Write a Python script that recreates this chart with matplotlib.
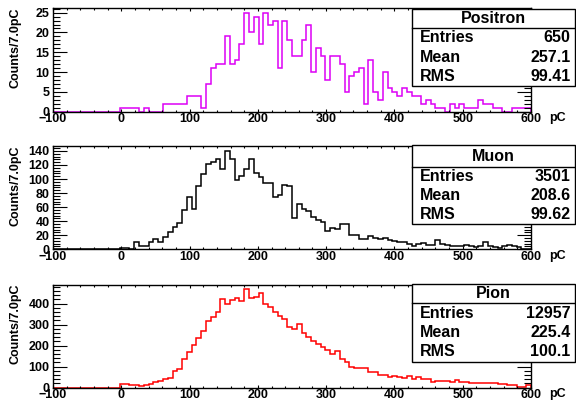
import numpy as np
import matplotlib
matplotlib.use("Agg")
import matplotlib.pyplot as plt
from matplotlib.patches import Rectangle
from matplotlib.lines import Line2D
from matplotlib.ticker import MultipleLocator, FixedLocator

plt.rcParams['font.family'] = ['Liberation Sans', 'DejaVu Sans']
plt.rcParams['font.weight'] = 'bold'

W, H, DPI = 576, 403, 100

# 100 bins of 7 pC from -100 to 600 pC
bin_edges = np.linspace(-100, 600, 101)

positron_counts = [
    0, 0, 0, 0, 0, 0, 0, 0, 0, 0,
    0, 0, 0, 0, 1, 1, 1, 1, 0, 1,
    0, 0, 0, 2, 2, 2, 2, 2, 4, 4,
    4, 1, 7, 11, 12, 12, 19, 12, 13, 17,
    25, 20, 24, 17, 25, 22, 23, 11, 23, 18,
    14, 14, 18, 22, 10, 16, 14, 8, 14, 14,
    12, 5, 9, 10, 11, 2, 13, 5, 3, 10,
    6, 5, 4, 6, 5, 4, 4, 2, 3, 2,
    1, 1, 0, 2, 1, 2, 1, 1, 1, 3,
    2, 2, 1, 1, 0, 0, 1, 1, 1, 1,
]

muon_counts = [
    0, 0, 1, 0, 0, 0, 0, 0, 0, 0,
    1, 1, 0, 1, 2, 2, 0, 10, 4, 4,
    10, 14, 10, 17, 25, 32, 37, 56, 75, 58,
    90, 107, 121, 124, 129, 114, 140, 128, 99, 104,
    114, 128, 109, 103, 95, 95, 75, 77, 92, 90,
    45, 65, 57, 54, 46, 41, 39, 26, 30, 29,
    36, 36, 20, 21, 14, 15, 19, 16, 14, 16,
    13, 12, 10, 10, 7, 5, 8, 9, 6, 6,
    13, 7, 6, 5, 4, 4, 6, 5, 3, 4,
    10, 4, 3, 2, 5, 6, 4, 3, 1, 1,
]

pion_counts = [
    0, 0, 0, 0, 0, 0, 0, 0, 0, 0,
    0, 0, 0, 0, 18, 17, 12, 11, 8, 12,
    18, 28, 30, 42, 44, 80, 90, 137, 172, 205,
    238, 270, 318, 335, 362, 422, 400, 415, 428, 412,
    467, 424, 430, 448, 397, 384, 360, 342, 328, 288,
    278, 305, 258, 242, 224, 208, 194, 180, 158, 174,
    134, 120, 100, 92, 92, 92, 76, 76, 60, 60,
    52, 55, 52, 48, 55, 43, 49, 40, 40, 29,
    32, 32, 34, 25, 36, 25, 25, 21, 21, 21,
    21, 21, 24, 17, 17, 13, 13, 5, 5, 11,
]

names = ["Positron", "Muon", "Pion"]
entries = ["650", "3501", "12957"]
means = ["257.1", "208.6", "225.4"]
rms_values = ["99.41", "99.62", "100.1"]
x_ticks = [-100, 0, 100, 200, 300, 400, 500, 600]
y_major_steps = [5, 20, 100]
y_minor_steps = [1, 4, 20]

series = [positron_counts, muon_counts, pion_counts]
colors = ["#DD00F5", "#000000", "#FF0000"]

# panel frames in pixels (top, bottom), shared left/right
frame_left, frame_right = 53, 531
frames = [(7.7, 111.7), (146.0, 249.3), (284.5, 387.7)]
# stats boxes in pixels (top, divider, bottom)
box_left, box_right = 412.3, 575.0
boxes = [(9.3, 28.3, 86.0), (145.0, 167.3, 224.0), (284.0, 303.3, 361.7)]


def fx(px):
    return px / W


def fy(py):
    return 1 - py / H


fig = plt.figure(figsize=(W / DPI, H / DPI), dpi=DPI)
fig.patch.set_facecolor("white")

for k in range(3):
    top, bot = frames[k]
    ax = fig.add_axes([fx(frame_left), fy(bot), (frame_right - frame_left) / W, (bot - top) / H])
    counts = np.asarray(series[k], dtype=float)
    ax.stairs(counts, bin_edges, color=colors[k], lw=1.1, baseline=0)
    ax.set_xlim(-100, 600)
    ax.set_ylim(0, 1.05 * counts.max())

    ax.xaxis.set_major_locator(FixedLocator(x_ticks))
    ax.xaxis.set_minor_locator(MultipleLocator(20))
    ax.yaxis.set_major_locator(MultipleLocator(y_major_steps[k]))
    ax.yaxis.set_minor_locator(MultipleLocator(y_minor_steps[k]))

    ax.tick_params(axis='x', which='major', direction='in', top=True, bottom=True,
                   length=2.4, width=0.8, labelsize=9, pad=1.2)
    ax.tick_params(axis='x', which='minor', direction='in', top=True, bottom=True,
                   length=1.2, width=0.8)
    ax.tick_params(axis='y', which='major', direction='in', left=True, right=True,
                   length=10, width=0.8, labelsize=9, pad=2.5)
    ax.tick_params(axis='y', which='minor', direction='in', left=True, right=True,
                   length=5, width=0.8)
    for lab in ax.get_xticklabels() + ax.get_yticklabels():
        lab.set_fontweight('bold')
    for sp in ax.spines.values():
        sp.set_linewidth(1.0)

    # axis titles
    fig.text(fx(15.3), fy(top - 0.5), "Counts/7.0pC", rotation=90, ha='center', va='top',
             fontsize=9, fontweight='bold')
    fig.text(fx(549), fy(bot + 6.5), "pC", ha='left', va='center', fontsize=9, fontweight='bold')

    # statistics box
    bt, bd, bb = boxes[k]
    rect = Rectangle((fx(box_left), fy(bb)), (box_right - box_left) / W, (bb - bt) / H,
                     transform=fig.transFigure, facecolor='white', edgecolor='black',
                     lw=1.0, zorder=10)
    fig.add_artist(rect)
    fig.add_artist(Line2D([fx(box_left), fx(box_right)], [fy(bd), fy(bd)],
                          transform=fig.transFigure, color='black', lw=1.0, zorder=11))
    fig.text(fx((box_left + box_right) / 2), fy((bt + bd) / 2), names[k], ha='center',
             va='center', fontsize=11.5, fontweight='bold', zorder=12)
    row_h = (bb - bd) / 3
    rows = [("Entries", entries[k]), ("Mean", means[k]), ("RMS", rms_values[k])]
    for r, (label, val) in enumerate(rows):
        yc = bd + row_h * (r + 0.5)
        fig.text(fx(419.5), fy(yc), label, ha='left', va='center', fontsize=11.5,
                 fontweight='bold', zorder=12)
        fig.text(fx(570.5), fy(yc), val, ha='right', va='center', fontsize=11.5,
                 fontweight='bold', zorder=12)

fig.savefig("out.png", dpi=DPI, facecolor="white")
